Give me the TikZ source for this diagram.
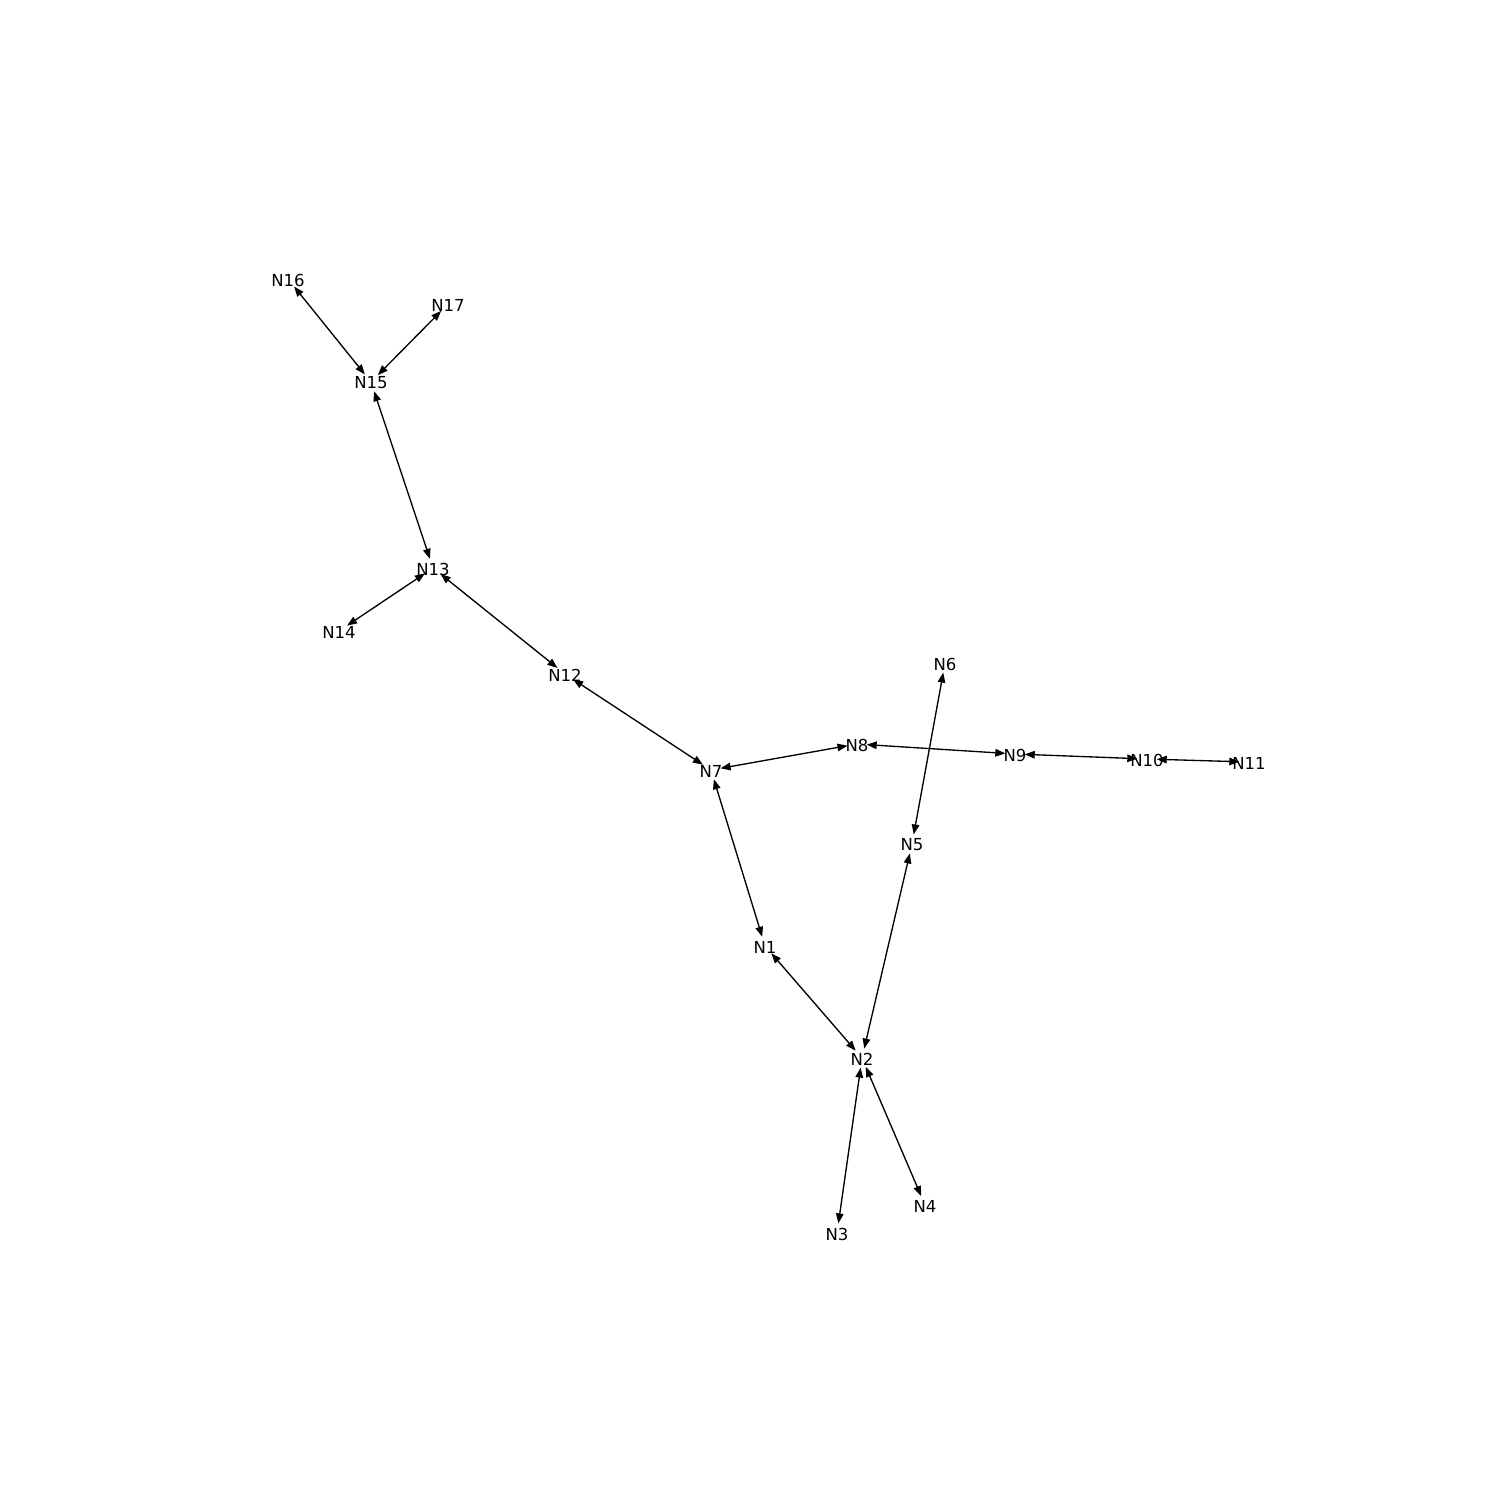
\documentclass[tikz,border=0pt]{standalone}
\usepackage{fontspec}
\setmainfont{DejaVu Sans}
\usetikzlibrary{arrows.meta}

\begin{document}
\begin{tikzpicture}[
    x=0.1mm, y=-0.1mm,
    >={Triangle[length=1mm,width=0.75mm]},
    vertex/.style={circle, minimum size=1.8mm, inner sep=0pt,
        label={[font=\fontsize{4.7}{5}\selectfont, inner sep=0pt, yshift=-0.1mm]center:#1}},
    link/.style={<->, line width=0.38pt}
]
\useasboundingbox (0,0) rectangle (1500,1500);

\node[vertex=N1] (n1) at (765,946) {};
\node[vertex=N2] (n2) at (862,1058) {};
\node[vertex=N3] (n3) at (837,1233) {};
\node[vertex=N4] (n4) at (925,1205) {};
\node[vertex=N5] (n5) at (912,844) {};
\node[vertex=N6] (n6) at (945,663) {};
\node[vertex=N7] (n7) at (711,770) {};
\node[vertex=N8] (n8) at (857,744) {};
\node[vertex=N9] (n9) at (1015,754) {};
\node[vertex=N10] (n10) at (1147,759) {};
\node[vertex=N11] (n11) at (1249,762) {};
\node[vertex=N12] (n12) at (565,674) {};
\node[vertex=N13] (n13) at (433,568) {};
\node[vertex=N14] (n14) at (339,631) {};
\node[vertex=N15] (n15) at (371,382) {};
\node[vertex=N16] (n16) at (288,279) {};
\node[vertex=N17] (n17) at (448,304) {};

\path[link]
(n15) edge (n16)
(n15) edge (n17)
(n15) edge (n13)
(n13) edge (n14)
(n13) edge (n12)
(n12) edge (n7)
(n7) edge (n8)
(n8) edge (n9)
(n9) edge (n10)
(n10) edge (n11)
(n7) edge (n1)
(n1) edge (n2)
(n2) edge (n5)
(n5) edge (n6)
(n2) edge (n3)
(n2) edge (n4);
\end{tikzpicture}
\end{document}
